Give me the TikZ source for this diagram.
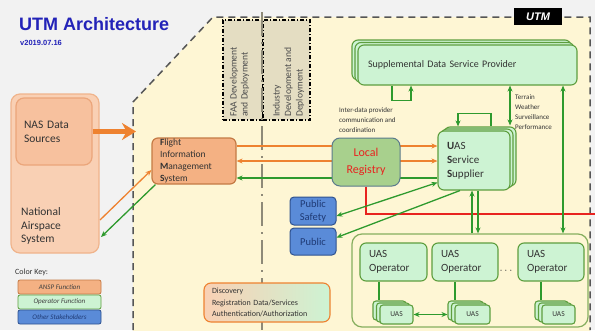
\documentclass[tikz,border=0pt]{standalone}
\usepackage{fontspec}
\setmainfont{Carlito}
\newfontfamily\arialf{Liberation Sans}
\usetikzlibrary{arrows.meta}
\definecolor{bggray}{HTML}{F2F2F2}
\definecolor{utmyel}{HTML}{FEF6D4}
\definecolor{tanbox}{HTML}{E4DDC2}
\definecolor{peachout}{HTML}{F9D0B4}
\definecolor{peachoutb}{HTML}{F0B48C}
\definecolor{peachin}{HTML}{F7C19E}
\definecolor{peachinb}{HTML}{EBA57A}
\definecolor{ansp}{HTML}{F4B183}
\definecolor{anspb}{HTML}{C47A45}
\definecolor{lrfill}{HTML}{A8D08D}
\definecolor{lrb}{HTML}{5B7A8C}
\definecolor{opfill}{HTML}{CDF3D3}
\definecolor{opb}{HTML}{5E9E3E}
\definecolor{grpb}{HTML}{86AE5E}
\definecolor{lgreen}{HTML}{2E9A2E}
\definecolor{lorange}{HTML}{EE8230}
\definecolor{bluefill}{HTML}{5A8BD8}
\definecolor{blueb}{HTML}{2F528F}
\definecolor{bluetxt}{HTML}{1F3A75}
\definecolor{redl}{HTML}{E8231F}
\definecolor{titleblue}{HTML}{2323B8}
\definecolor{centergray}{HTML}{8E8A78}
\definecolor{utmline}{HTML}{555555}
\begin{document}
\begin{tikzpicture}[x=1pt,y=-1pt,
  >={Stealth[length=6pt,width=5pt]},
  greenbox/.style={draw=opb, fill=opfill, line width=1.1pt, rounded corners=6pt, inner sep=0pt},
  bluebox/.style={draw=blueb, fill=bluefill, line width=1pt, rounded corners=4pt, inner sep=0pt, text=bluetxt, font=\fontsize{10.5}{14}\selectfont},
  gl/.style={draw=lgreen, line width=1.3pt},
  ol/.style={draw=lorange, line width=1.3pt},
  dashdotbox/.style={draw=black, fill=tanbox, line width=1.1pt, dash pattern=on 4pt off 2pt on 1pt off 2pt},
  keybox/.style={rounded corners=2pt, minimum width=83pt, minimum height=14pt, inner sep=0pt, line width=0.8pt, font=\fontsize{7}{8}\selectfont\itshape},
  smalltext/.style={font=\fontsize{7}{10}\selectfont, align=left, anchor=west, inner sep=0pt, text=black!80}
]
\fill[bggray] (0,0) rectangle (595,330);
\useasboundingbox (0,0) rectangle (595,330);

% UTM region
\fill[utmyel] (133,332) -- (133,102) -- (213,17) -- (590,17) -- (590,332) -- cycle;
\draw[utmline, line width=1.5pt, dash pattern=on 7pt off 5pt] (133,330) -- (133,102) -- (213,17) -- (590,17) -- (590,330);

% Title
\node[anchor=west, inner sep=0pt, text=titleblue, font=\arialf\bfseries\fontsize{18}{20}\selectfont] (title) at (19,24) {UTM Architecture};
\node[anchor=west, inner sep=0pt, text=titleblue, font=\arialf\bfseries\fontsize{7.5}{8}\selectfont] (version) at (20,43) {v2019.07.16};

% UTM label
\node[fill=black, minimum width=48pt, minimum height=17pt, inner sep=0pt, text=white, font=\arialf\bfseries\itshape\fontsize{11}{12}\selectfont] (utmlabel) at (538,16.5) {UTM};

% FAA / Industry boxes
\node[dashdotbox, minimum width=40pt, minimum height=100pt] (faa) at (243,70) {};
\node[dashdotbox, minimum width=47pt, minimum height=100pt] (ind) at (286.5,70) {};
\node[rotate=90, anchor=west, align=left, inner sep=0pt, font=\fontsize{9.6}{11}\selectfont, text=black!70] (faat) at (239.5,117) {FAA Development\\and Deployment};
\node[rotate=90, anchor=west, align=left, inner sep=0pt, font=\fontsize{9.6}{11.5}\selectfont, text=black!70] (indt) at (288.5,117) {Industry\\Development and\\Deployment};

% center line
\draw[centergray, line width=2.5pt, dash pattern=on 24pt off 6pt on 2pt off 6pt] (262,12) -- (262,330);

% NAS
\node[draw=peachoutb, fill=peachout, line width=1.2pt, rounded corners=9pt, minimum width=88pt, minimum height=159pt, inner sep=0pt] (nasout) at (55,173.5) {};
\node[draw=peachinb, fill=peachin, line width=1.2pt, rounded corners=8pt, minimum width=76pt, minimum height=67pt, inner sep=0pt, text width=60pt, align=left, font=\fontsize{11.5}{14}\selectfont, text=black!80] (nasin) at (54,131.5) {NAS Data\\Sources};
\node[anchor=west, align=left, inner sep=0pt, font=\fontsize{11.5}{13.5}\selectfont, text=black!80] (nastext) at (21,226) {National\\Airspace\\System};

% big arrow
\draw[lorange, line width=4.5pt, -{Stealth[length=14pt,width=17pt]}] (nasin.east) -- (136,131.5);

% Color key
\node[anchor=west, inner sep=0pt, font=\fontsize{8}{10}\selectfont, text=black!80] (keytitle) at (15,272) {Color Key:};
\node[keybox, draw=anspb, fill=ansp, text=black!75] (k1) at (59.5,287) {ANSP Function};
\node[keybox, draw=opb, fill=opfill, text=black!75] (k2) at (59.5,302) {Operator Function};
\node[keybox, draw=blueb, fill=bluefill, text=bluetxt] (k3) at (59.5,317) {Other Stakeholders};

% FIMS
\node[draw=anspb, fill=ansp, line width=1.2pt, rounded corners=6pt, minimum height=46pt, text width=68pt, inner xsep=8pt, inner ysep=0pt, align=left, font=\fontsize{9.5}{11.7}\selectfont, text=black!80] (fims) at (194,161) {\textbf{F}light\\Information\\\textbf{M}anagement\\\textbf{S}ystem};

% USS stack
\node[greenbox, minimum width=72pt, minimum height=59pt] (uss3) at (480,156.5) {};
\node[greenbox, minimum width=72pt, minimum height=59pt] (uss2) at (477,158.5) {};
\node[greenbox, minimum height=59pt, text width=54pt, inner xsep=9pt, align=left, font=\fontsize{11}{14}\selectfont, text=black!80] (uss) at (474,160.5) {\textbf{U}AS\\\textbf{S}ervice\\\textbf{S}upplier};

% SDSP stack
\node[greenbox, minimum width=219pt, minimum height=40pt] (sdsp3) at (461.5,60) {};
\node[greenbox, minimum width=219pt, minimum height=40pt] (sdsp2) at (464.5,62.5) {};
\node[greenbox, minimum height=40pt, text width=199pt, inner xsep=10pt, align=left, font=\fontsize{10}{12}\selectfont, text=black!80] (sdsp) at (467.5,65) {Supplemental Data Service Provider};

% FIMS <-> USS lines
\draw[ol, ->] ([yshift=15pt]fims.east) -- ([yshift=15pt]fims.east -| uss.west);
\draw[ol, <->] (fims.east) -- (fims.east -| uss.west);
\draw[gl, <-] ([yshift=-17pt]fims.east) -- ([yshift=-17pt]fims.east -| uss.west);

% NAS <-> FIMS
\coordinate (nasA) at (100,220);
\coordinate (nasB) at (101,237);
\draw[ol, ->] (nasA) -- ([yshift=-9pt]fims.west);
\draw[gl, ->] ([xshift=4pt]fims.south west) -- (nasB);

% Local registry
\node[draw=lrb, fill=lrfill, line width=1pt, rounded corners=8pt, minimum width=68pt, minimum height=48pt, inner sep=0pt, align=center, text=redl, font=\fontsize{12}{17}\selectfont] (lr) at (366,162) {Local\\Registry};
\coordinate (redend) at (595,214);
\draw[redl, line width=1.2pt] (lr.south) |- (redend);

% helper coordinates for vertical lines
\coordinate (x392) at (392,0);
\coordinate (x411) at (411,0);
\coordinate (x458) at (458,0);
\coordinate (x491) at (491,0);
\coordinate (x510) at (510,0);
\coordinate (x563) at (563,0);
\coordinate (x472) at (472,0);
\coordinate (x478) at (478,0);

% SDSP loop
\draw[gl, ->] (sdsp.south -| x392) -- ++(0,15) -| (sdsp.south -| x411);
% USS loop
\draw[gl, ->] (uss3.north -| x491) -- ++(0,-13) -| (uss3.north -| x458);
% SDSP <-> USS
\draw[gl, <->] (sdsp.south -| x510) -- ([yshift=1pt]uss3.north -| x510);

% labels
\node[smalltext] (interdata) at (339,120) {Inter-data provider\\communication and\\coordination};
\node[smalltext] (terrain) at (515,112) {Terrain\\Weather\\Surveillance\\Performance};

% Public safety / Public
\node[bluebox, minimum width=46pt, minimum height=28pt, align=center, font=\fontsize{10.5}{13}\selectfont] (ps) at (313,211) {Public\\Safety};
\node[bluebox, minimum width=46pt, minimum height=27pt] (pub) at (313,241.5) {Public};
\draw[gl, <->] ([yshift=-5pt]ps.east) -- ([yshift=-22pt]uss.west);
\draw[gl, ->] ([xshift=-14pt]uss.south) -- ([yshift=4pt]pub.east);

% Operators group
\node[draw=grpb, fill=utmyel, line width=1.2pt, rounded corners=10pt, minimum width=236pt, minimum height=93pt, inner sep=0pt] (grp) at (470,280.5) {};
\node[greenbox, minimum height=38pt, text width=49pt, inner xsep=9pt, align=left, font=\fontsize{11}{14}\selectfont, text=black!80] (op1) at (393.5,262) {UAS\\Operator};
\node[greenbox, minimum height=38pt, text width=48pt, inner xsep=9pt, align=left, font=\fontsize{11}{14}\selectfont, text=black!80] (op2) at (465,262) {UAS\\Operator};
\node[greenbox, minimum height=38pt, text width=48pt, inner xsep=9pt, align=left, font=\fontsize{11}{14}\selectfont, text=black!80] (op3) at (551,262) {UAS\\Operator};
\node[inner sep=0pt, font=\fontsize{11}{12}\selectfont, text=black!80] (dots) at (506,271) {$\cdots$};

% UAS stacks
\foreach \n/\cx/\w in {1/396.5/33, 2/472.5/35, 3/558.5/33}{
  \node[greenbox, rounded corners=3pt, minimum width=\w pt, minimum height=19pt] (uas\n c) at (\cx-7,310.5) {};
  \node[greenbox, rounded corners=3pt, minimum width=\w pt, minimum height=19pt] (uas\n b) at (\cx-3.5,312.5) {};
  \node[greenbox, rounded corners=3pt, minimum width=\w pt, minimum height=19pt, font=\fontsize{7.5}{9}\selectfont, text=black!80] (uas\n) at (\cx,314.5) {UAS};
}
\coordinate (x379) at (379,0);
\coordinate (x455) at (455,0);
\coordinate (x541) at (541,0);
\draw[gl] (op1.south -| x379) -- (uas1c.north -| x379);
\draw[gl] (op2.south -| x455) -- (uas2c.north -| x455);
\draw[gl] (op3.south -| x541) -- (uas3c.north -| x541);
\draw[gl, <->] (uas1.east) -- (uas1.east -| uas2c.west);

% USS <-> group, SDSP <-> group
\draw[gl, ->] (grp.north -| x472) -- (uss.south -| x472);
\draw[gl, ->] (uss.south -| x478) -- (grp.north -| x478);
\draw[gl, <->] (sdsp.south -| x563) -- (grp.north -| x563);

% Discovery box
\node[draw=lorange, line width=1.1pt, rounded corners=7pt, left color=peachout, right color=opfill, minimum height=39pt, text width=110pt, inner xsep=8pt, inner ysep=0pt, align=left, font=\fontsize{8}{11.5}\selectfont, text=black!80] (disc) at (267,302.5) {Discovery\\Registration Data/Services\\Authentication/Authorization};

\end{tikzpicture}
\end{document}
